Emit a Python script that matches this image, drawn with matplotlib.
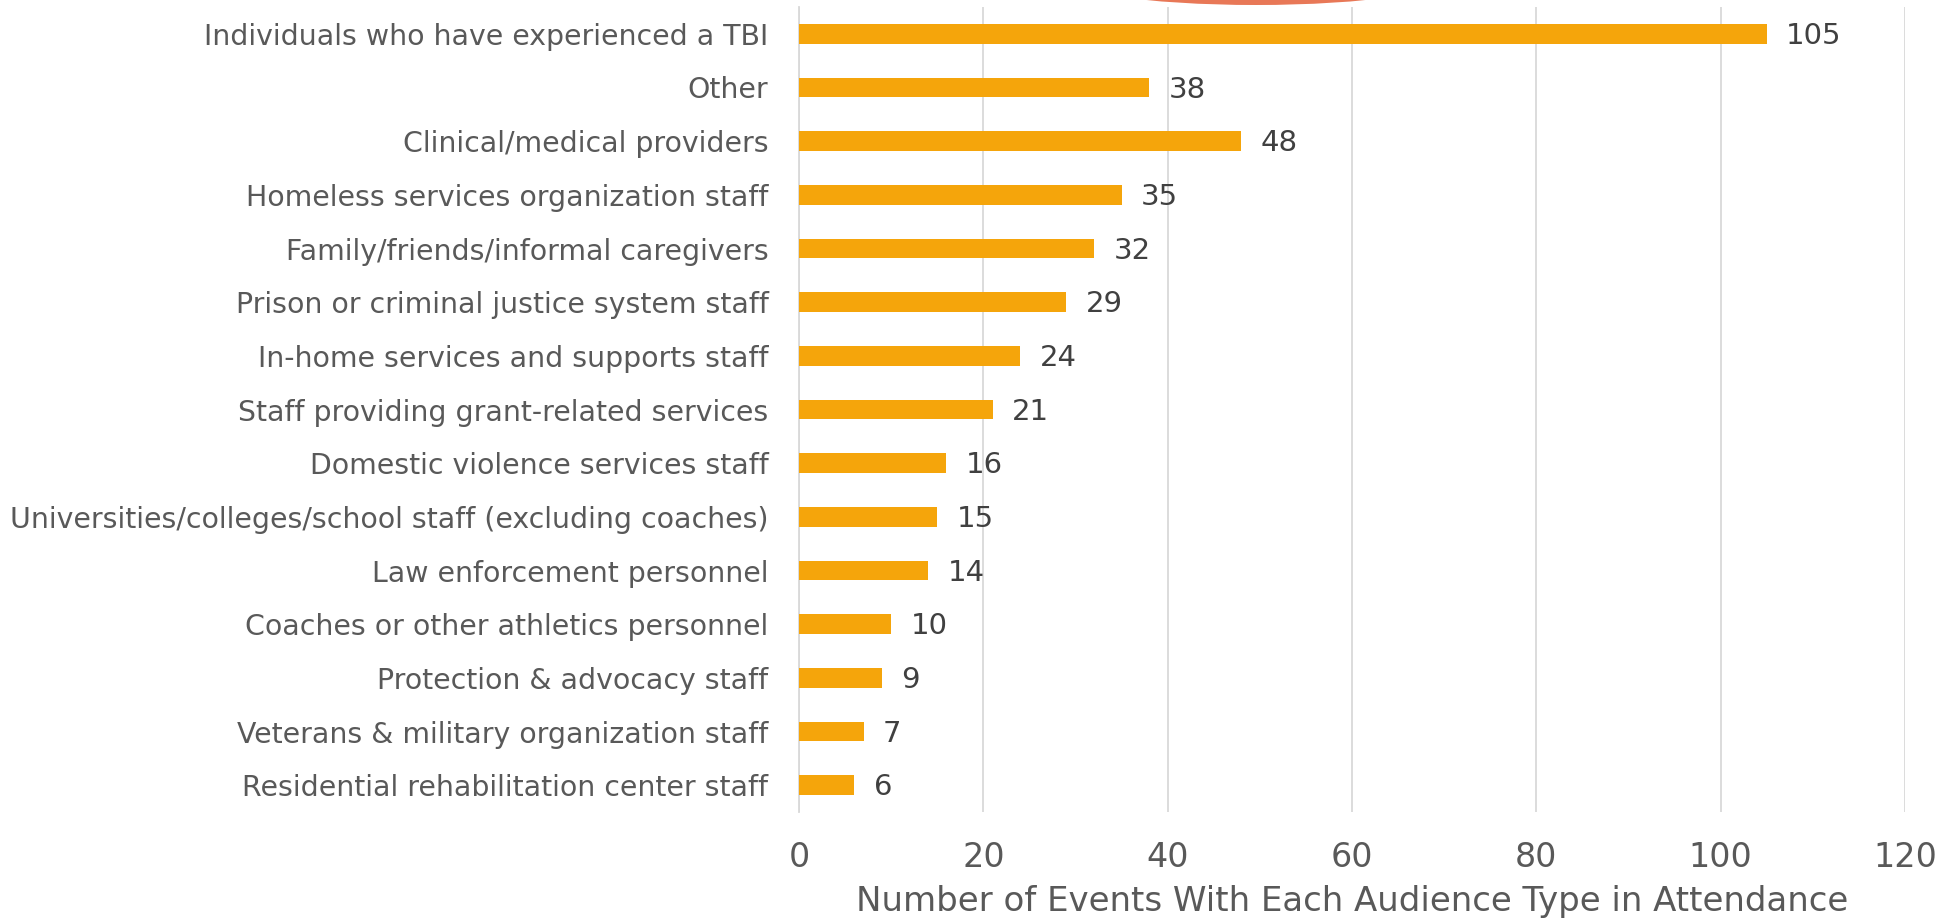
import matplotlib
matplotlib.use("Agg")
import matplotlib.pyplot as plt
from matplotlib.patches import Ellipse

categories = [
    "Individuals who have experienced a TBI",
    "Other",
    "Clinical/medical providers",
    "Homeless services organization staff",
    "Family/friends/informal caregivers",
    "Prison or criminal justice system staff",
    "In-home services and supports staff",
    "Staff providing grant-related services",
    "Domestic violence services staff",
    "Universities/colleges/school staff (excluding coaches)",
    "Law enforcement personnel",
    "Coaches or other athletics personnel",
    "Protection & advocacy staff",
    "Veterans & military organization staff",
    "Residential rehabilitation center staff",
]
values = [105, 38, 48, 35, 32, 29, 24, 21, 16, 15, 14, 10, 9, 7, 6]
xticks = [0, 20, 40, 60, 80, 100, 120]
xlabel = "Number of Events With Each Audience Type in Attendance"

plt.rcParams['font.family'] = ['DejaVu Sans']

W, H = 1942, 922
fig = plt.figure(figsize=(W / 100, H / 100), dpi=100)
ax = fig.add_axes([799 / W, 1 - 812 / H, (1905 - 799) / W, (812 - 7) / H])

ypos = list(range(len(categories)))
ax.barh(ypos, values, height=0.37, color="#F5A50B", zorder=3)
ax.set_ylim(len(categories) - 0.5, -0.5)
ax.set_xlim(0, 120)
ax.set_yticks(ypos)
ax.set_yticklabels(categories, fontsize=20.4, color="#595959")
ax.set_xticks(xticks)
ax.set_xticklabels([str(t) for t in xticks], fontsize=24, color="#595959")
ax.tick_params(axis="y", length=0, pad=22)
ax.tick_params(axis="x", length=0, pad=21)
ax.grid(axis="x", color="#D9D9D9", linewidth=1.3, zorder=0)
for s in ["top", "right", "bottom"]:
    ax.spines[s].set_visible(False)
ax.spines["left"].set_color("#D9D9D9")
ax.spines["left"].set_linewidth(1.3)

for y, v in zip(ypos, values):
    ax.annotate(str(v), (v, y), xytext=(14, -1.5), textcoords="offset points",
                va="center", ha="left", fontsize=21, color="#404040")

ax.set_xlabel(xlabel, fontsize=24.5, color="#595959", labelpad=8)

# decorative sliver peeking at the top edge
fig.patches.append(Ellipse((1256 / W, 1 + 25 / H), 400 / W, 60 / H,
                           transform=fig.transFigure, facecolor="#E4603A",
                           edgecolor="none", alpha=0.85))

fig.savefig("out.png", dpi=100)
